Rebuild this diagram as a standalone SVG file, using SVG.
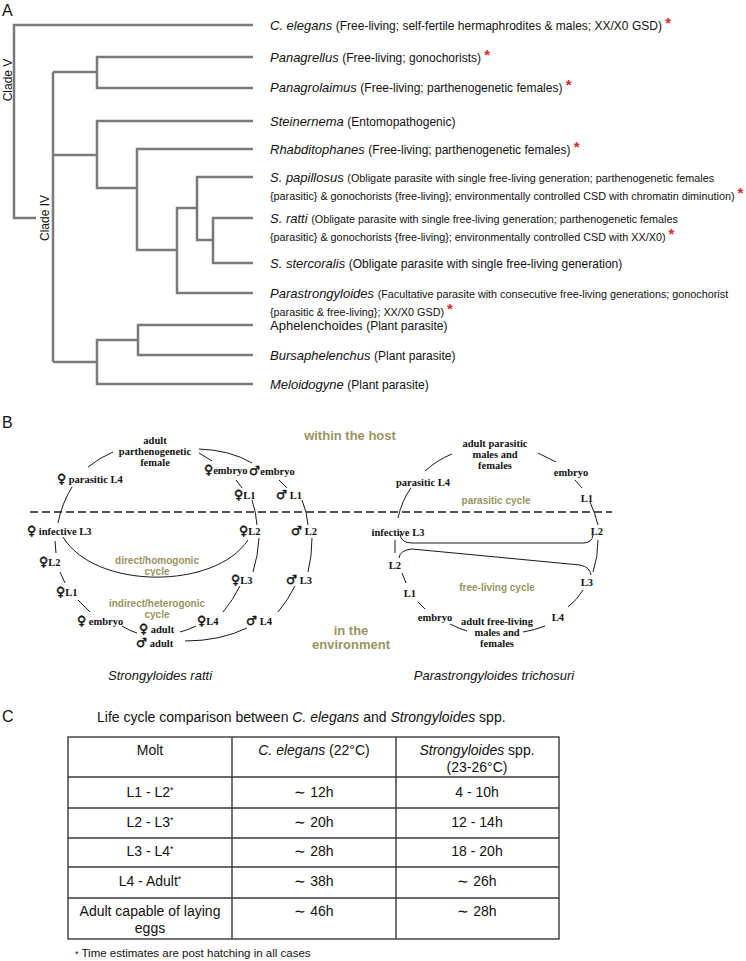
<svg xmlns="http://www.w3.org/2000/svg" width="746" height="961" viewBox="0 0 746 961">
<style>
text{font-family:"Liberation Sans",Arial,sans-serif;fill:#111}
.pl{font-size:16px}
.sp{font-size:13px;font-style:italic}
.d{font-size:12px;font-style:normal}
.s{font-size:10.8px;font-style:normal}
.ast{fill:#e0262a;font-size:15px;font-weight:bold;font-style:normal}
.cl{font-size:12px;text-anchor:middle}
.tree{stroke:#7a7a7a;stroke-width:2.5;fill:none}
.lc{font-family:"Liberation Serif","Times New Roman",serif;font-weight:bold;font-size:10.5px}
.m{text-anchor:middle}
.sym{font-family:"DejaVu Sans",sans-serif;font-weight:bold;font-size:12.5px;stroke:#111;stroke-width:0.5}
.ol{font-weight:bold;font-size:10px;fill:#9a935f;text-anchor:middle}
.olb{font-weight:bold;font-size:13px;fill:#9a935f;text-anchor:middle}
.arc{stroke:#1a1a1a;stroke-width:1;fill:none}
.dash{stroke:#1a1a1a;stroke-width:1.4;stroke-dasharray:8 4;fill:none}
.cap{font-size:13px;font-style:italic;text-anchor:middle}
.tb{stroke:#3a3a3a;stroke-width:1.4;fill:none}
.tt{font-size:14px;text-anchor:middle}
.sup{font-size:9px}
</style>

<!-- Panel letters -->
<text class="pl" x="2" y="16">A</text>
<text class="pl" x="2" y="428">B</text>
<text class="pl" x="2" y="722">C</text>

<!-- ===== Panel A: tree connectors ===== -->
<g id="tree-connectors">
<path class="tree" d="M253,25 H14 V218 H36"/>
<path class="tree" d="M53,72 V362"/>
<path class="tree" d="M253,57 H97 V88 H253"/>
<path class="tree" d="M53,72 H97"/>
<path class="tree" d="M253,121 H97 V188 H137"/>
<path class="tree" d="M53,155 H97"/>
<path class="tree" d="M253,149 H137 V250 H177"/>
<path class="tree" d="M197,208 H177 V293 H253"/>
<path class="tree" d="M253,177 H197 V240 H213"/>
<path class="tree" d="M253,218 H213 V263 H253"/>
<path class="tree" d="M253,325 H138 V355 H253"/>
<path class="tree" d="M138,340 H97 V384 H253"/>
<path class="tree" d="M53,362 H97"/>
</g>
<g id="clade-labels">
<text class="cl" transform="translate(12,80) rotate(-90)">Clade V</text>
<text class="cl" transform="translate(49,218) rotate(-90)">Clade IV</text>
</g>

<g id="taxon-celegans"><text class="sp" x="270" y="30">C. elegans <tspan class="d">(Free-living; self-fertile hermaphrodites &amp; males; XX/X0 GSD) </tspan><tspan class="ast" dy="-2">*</tspan></text></g>
<g id="taxon-panagrellus"><text class="sp" x="270" y="62">Panagrellus <tspan class="d">(Free-living; gonochorists) </tspan><tspan class="ast" dy="-2">*</tspan></text></g>
<g id="taxon-panagrolaimus"><text class="sp" x="270" y="92">Panagrolaimus <tspan class="d">(Free-living; parthenogenetic females) </tspan><tspan class="ast" dy="-2">*</tspan></text></g>
<g id="taxon-steinernema"><text class="sp" x="270" y="126">Steinernema <tspan class="d">(Entomopathogenic)</tspan></text></g>
<g id="taxon-rhabditophanes"><text class="sp" x="270" y="154">Rhabditophanes <tspan class="d">(Free-living; parthenogenetic females) </tspan><tspan class="ast" dy="-2">*</tspan></text></g>
<g id="taxon-spapillosus">
<text class="sp" x="270" y="182">S. papillosus <tspan class="s">(Obligate parasite with single free-living generation; parthenogenetic females</tspan></text>
<text class="s" x="270" y="200">{parasitic} &amp; gonochorists {free-living}; environmentally controlled CSD with chromatin diminution) <tspan class="ast" dy="-2">*</tspan></text>
</g>
<g id="taxon-sratti">
<text class="sp" x="270" y="223">S. ratti <tspan class="s">(Obligate parasite with single free-living generation; parthenogenetic females</tspan></text>
<text class="s" x="270" y="241">{parasitic} &amp; gonochorists {free-living}; environmentally controlled CSD with XX/X0) <tspan class="ast" dy="-2">*</tspan></text>
</g>
<g id="taxon-sstercoralis"><text class="sp" x="270" y="268">S. stercoralis <tspan class="d">(Obligate parasite with single free-living generation)</tspan></text></g>
<g id="taxon-parastrongyloides">
<text class="sp" x="270" y="298">Parastrongyloides <tspan class="s">(Facultative parasite with consecutive free-living generations; gonochorist</tspan></text>
<text class="s" x="270" y="316">{parasitic &amp; free-living}; XX/X0 GSD) <tspan class="ast" dy="-2">*</tspan></text>
</g>
<g id="taxon-aphelenchoides"><text class="d" x="270" y="330" style="font-size:13px">Aphelenchoides <tspan class="d">(Plant parasite)</tspan></text></g>
<g id="taxon-bursaphelenchus"><text class="sp" x="270" y="360">Bursaphelenchus <tspan class="d">(Plant parasite)</tspan></text></g>
<g id="taxon-meloidogyne"><text class="sp" x="270" y="389">Meloidogyne <tspan class="d">(Plant parasite)</tspan></text></g>

<!-- ===== Panel B ===== -->
<g id="cycle-connectors">
<path class="dash" d="M30,512 H612"/>
<!-- S. ratti -->
<path class="arc" d="M88,467 Q99,458 113,452"/>
<path class="arc" d="M199,449 Q230,450 252,463"/>
<path class="arc" d="M199,453 L212,461"/>
<path class="arc" d="M236,480 L242,488"/>
<path class="arc" d="M279,480 L287,488"/>
<path class="arc" d="M252,500 Q256,512 257,525"/>
<path class="arc" d="M302,500 Q307,512 308,525"/>
<path class="arc" d="M259,538 Q258,556 253,572"/>
<path class="arc" d="M312,538 Q312,556 308,572"/>
<path class="arc" d="M240,586 Q233,600 223,612"/>
<path class="arc" d="M295,586 Q288,600 278,612"/>
<path class="arc" d="M196,626 Q188,630 180,632"/>
<path class="arc" d="M247,628 Q220,641 185,641"/>
<path class="arc" d="M122,626 Q130,631 137,633"/>
<path class="arc" d="M78,600 L90,612"/>
<path class="arc" d="M60,572 L65,583"/>
<path class="arc" d="M55,541 L56,553"/>
<path class="arc" d="M72,487 Q62,503 58,523"/>
<path class="arc" d="M63,537 C95,590 215,590 248,540"/>
<!-- P. trichosuri -->
<path class="arc" d="M425,471 Q437,460 452,454"/>
<path class="arc" d="M538,453 L556,462"/>
<path class="arc" d="M575,480 L582,488"/>
<path class="arc" d="M590,502 Q595,513 598,525"/>
<path class="arc" d="M598,540 Q598,557 593,572"/>
<path class="arc" d="M583,590 Q577,600 568,607"/>
<path class="arc" d="M545,626 Q535,630 523,632"/>
<path class="arc" d="M450,624 Q460,629 467,631"/>
<path class="arc" d="M418,602 L425,609"/>
<path class="arc" d="M402,573 L406,583"/>
<path class="arc" d="M395,540 L395,553"/>
<path class="arc" d="M411,488 Q402,500 398,518"/>
<path class="arc" d="M400,534 Q401,543 412,543 L583,543 Q592,543 593,535"/>
<path class="arc" d="M399,558 Q400,550 412,549 L580,565 Q590,567 591,575"/>
</g>

<g id="region-labels">
<text class="olb" x="350" y="440">within the host</text>
<text class="olb" x="351" y="635">in the</text>
<text class="olb" x="351" y="649">environment</text>
</g>

<g id="sratti-cycle">
<g id="sr-adult"><text class="lc m" x="155" y="444">adult</text><text class="lc m" x="155" y="455">parthenogenetic</text><text class="lc m" x="155" y="466">female</text></g>
<g id="sr-parL4"><text class="lc" x="57" y="483"><tspan class="sym">♀</tspan> parasitic L4</text></g>
<g id="sr-fembryo"><text class="lc" x="204" y="474"><tspan class="sym">♀</tspan>embryo</text></g>
<g id="sr-membryo"><text class="lc" x="249" y="475"><tspan class="sym">♂</tspan>embryo</text></g>
<g id="sr-fL1"><text class="lc" x="234" y="499"><tspan class="sym">♀</tspan>L1</text></g>
<g id="sr-mL1"><text class="lc" x="276" y="499"><tspan class="sym">♂</tspan> L1</text></g>
<g id="sr-infL3"><text class="lc" x="27" y="535"><tspan class="sym">♀</tspan> infective L3</text></g>
<g id="sr-fL2"><text class="lc" x="239" y="535"><tspan class="sym">♀</tspan>L2</text></g>
<g id="sr-mL2"><text class="lc" x="291" y="535"><tspan class="sym">♂</tspan> L2</text></g>
<g id="sr-fL2b"><text class="lc" x="39" y="566"><tspan class="sym">♀</tspan>L2</text></g>
<g id="sr-fL1b"><text class="lc" x="56" y="596"><tspan class="sym">♀</tspan>L1</text></g>
<g id="sr-fembryob"><text class="lc" x="77" y="625"><tspan class="sym">♀</tspan> embryo</text></g>
<g id="sr-fadult"><text class="lc" x="139" y="633"><tspan class="sym">♀</tspan> adult</text></g>
<g id="sr-madult"><text class="lc" x="136" y="647"><tspan class="sym">♂</tspan> adult</text></g>
<g id="sr-fL4"><text class="lc" x="197" y="625"><tspan class="sym">♀</tspan>L4</text></g>
<g id="sr-mL4"><text class="lc" x="246" y="625"><tspan class="sym">♂</tspan> L4</text></g>
<g id="sr-fL3"><text class="lc" x="231" y="584"><tspan class="sym">♀</tspan>L3</text></g>
<g id="sr-mL3"><text class="lc" x="286" y="584"><tspan class="sym">♂</tspan> L3</text></g>
<g id="sr-direct"><text class="ol" x="157" y="564">direct/homogonic</text><text class="ol" x="157" y="575">cycle</text></g>
<g id="sr-indirect"><text class="ol" x="157" y="607">indirect/heterogonic</text><text class="ol" x="157" y="618">cycle</text></g>
<text class="cap" x="160" y="680">Strongyloides ratti</text>
</g>

<g id="ptrichosuri-cycle">
<g id="pt-adultpar"><text class="lc m" x="495" y="447">adult parasitic</text><text class="lc m" x="495" y="458">males and</text><text class="lc m" x="495" y="469">females</text></g>
<g id="pt-embryo"><text class="lc m" x="571" y="476">embryo</text></g>
<g id="pt-L1"><text class="lc m" x="587" y="502">L1</text></g>
<g id="pt-parL4"><text class="lc m" x="423" y="486">parasitic L4</text></g>
<g id="pt-infL3"><text class="lc m" x="398" y="536">infective L3</text></g>
<g id="pt-L2"><text class="lc m" x="597" y="535">L2</text></g>
<g id="pt-L2b"><text class="lc m" x="395" y="569">L2</text></g>
<g id="pt-L1b"><text class="lc m" x="410" y="597">L1</text></g>
<g id="pt-L3"><text class="lc m" x="587" y="586">L3</text></g>
<g id="pt-L4"><text class="lc m" x="558" y="621">L4</text></g>
<g id="pt-embryob"><text class="lc m" x="435" y="621">embryo</text></g>
<g id="pt-adultfree"><text class="lc m" x="497" y="625">adult free-living</text><text class="lc m" x="497" y="636">males and</text><text class="lc m" x="497" y="647">females</text></g>
<g id="pt-parcycle"><text class="ol" x="496" y="504">parasitic cycle</text></g>
<g id="pt-freecycle"><text class="ol" x="497" y="591">free-living cycle</text></g>
<text class="cap" x="494" y="680">Parastrongyloides trichosuri</text>
</g>

<!-- ===== Panel C ===== -->
<g id="table-title"><text x="97" y="722" style="font-size:14px">Life cycle comparison between <tspan font-style="italic">C. elegans</tspan> and <tspan font-style="italic">Strongyloides</tspan> spp.</text></g>
<g id="table">
<rect class="tb" x="68" y="737" width="491" height="202"/>
<path class="tb" d="M232,737 V939 M396,737 V939 M68,777 H559 M68,808 H559 M68,838 H559 M68,867 H559 M68,898 H559"/>
<text class="tt" x="150" y="755">Molt</text>
<text class="tt" x="314" y="755"><tspan font-style="italic">C. elegans</tspan> (22°C)</text>
<text class="tt" x="477" y="755"><tspan font-style="italic">Strongyloides</tspan> spp.</text>
<text class="tt" x="477" y="772">(23-26°C)</text>
<text class="tt" x="150" y="797">L1 - L2<tspan class="sup" dy="-4">*</tspan></text>
<text class="tt" x="314" y="797">∼ 12h</text>
<text class="tt" x="477" y="797">4 - 10h</text>
<text class="tt" x="150" y="827">L2 - L3<tspan class="sup" dy="-4">*</tspan></text>
<text class="tt" x="314" y="827">∼ 20h</text>
<text class="tt" x="477" y="827">12 - 14h</text>
<text class="tt" x="150" y="856">L3 - L4<tspan class="sup" dy="-4">*</tspan></text>
<text class="tt" x="314" y="856">∼ 28h</text>
<text class="tt" x="477" y="856">18 - 20h</text>
<text class="tt" x="150" y="886">L4 - Adult<tspan class="sup" dy="-4">*</tspan></text>
<text class="tt" x="314" y="886">∼ 38h</text>
<text class="tt" x="477" y="886">∼ 26h</text>
<text class="tt" x="150" y="916">Adult capable of laying</text>
<text class="tt" x="150" y="933">eggs</text>
<text class="tt" x="314" y="916">∼ 46h</text>
<text class="tt" x="477" y="916">∼ 28h</text>
</g>
<g id="footnote"><text x="75" y="957" style="font-size:11.5px"><tspan class="sup">*</tspan> Time estimates are post hatching in all cases</text></g>
</svg>
